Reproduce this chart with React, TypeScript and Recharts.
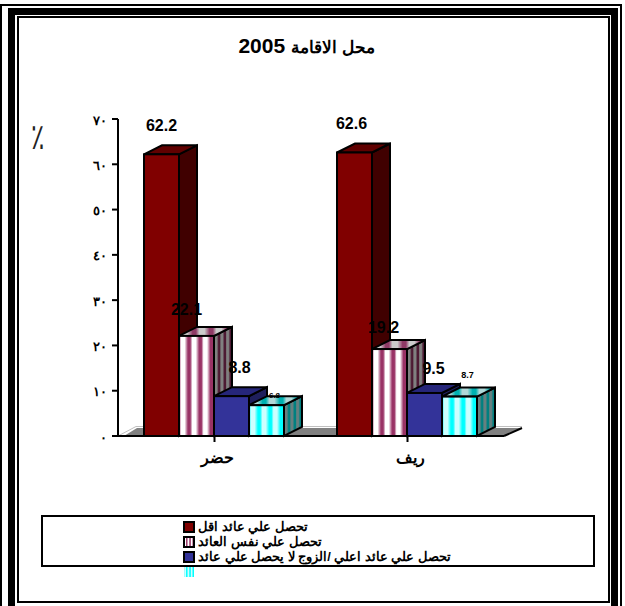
import React from 'react';
import { BarChart, Bar, XAxis, YAxis, LabelList, Legend, Customized, usePlotArea } from 'recharts';

const categories = ['حضر', 'ريف'];
const seriesKeys = ['less', 'same', 'more', 'none'];
const seriesNames = ['تحصل علي عائد اقل', 'تحصل علي نفس العائد', 'تحصل علي عائد اعلي /الزوج لا يحصل علي عائد', ''];
const lessValues = [62.2, 62.6];
const sameValues = [22.1, 19.2];
const moreValues = [8.8, 9.5];
const noneValues = [6.8, 8.7];
const yTicks = [0, 10, 20, 30, 40, 50, 60, 70];
const yTickLabels = ['٠', '١٠', '٢٠', '٣٠', '٤٠', '٥٠', '٦٠', '٧٠'];

const data = categories.map((name, i) => ({
    name,
    less: lessValues[i],
    same: sameValues[i],
    more: moreValues[i],
    none: noneValues[i],
}));

const LATIN = '"Liberation Sans", Arial, sans-serif';
const DEPTH_X = 18;
const DEPTH_Y = 9;

// front, top and side fill of each series
const FACES = [
    ['#800000', '#600000', '#400000'],
    ['url(#pinkFront)', 'url(#pinkTop)', 'url(#pinkSide)'],
    ['#333399', '#26267a', '#1f1f5c'],
    ['url(#cyanFront)', 'url(#cyanTop)', 'url(#cyanSide)'],
];

// label nudges from the middle of the front top edge, [series][category]
const LABEL_NUDGE = [
    [[0, -29], [-3, -29]],
    [[-10, -26], [-6, -22]],
    [[8, -29], [9, -24]],
    [[8, -10], [8, -22]],
];
const LABEL_SIZE = [[16, 16], [16, 16], [16, 16], [8, 9]];

function stripes(id: string, a: string, b: string) {
    return (
        <linearGradient id={id} x1="0" x2="0.32" y1="0" y2="0" spreadMethod="repeat">
            <stop offset="0" stopColor={a} />
            <stop offset="0.2" stopColor={b} />
            <stop offset="0.5" stopColor={b} />
            <stop offset="0.8" stopColor={a} />
            <stop offset="1" stopColor={a} />
        </linearGradient>
    );
}

const Box3D = (series: number) => (props: any) => {
    const { x, y, width, height } = props;
    const [front, top, side] = FACES[series];
    const r = x + width;
    const b = y + height;
    const line = { stroke: '#000', strokeWidth: 2, strokeLinejoin: 'miter' as const };
    return (
        <g>
            <polygon points={`${r},${y} ${r + DEPTH_X},${y - DEPTH_Y} ${r + DEPTH_X},${b - DEPTH_Y} ${r},${b}`} fill={side} {...line} />
            <polygon points={`${x},${y} ${x + DEPTH_X},${y - DEPTH_Y} ${r + DEPTH_X},${y - DEPTH_Y} ${r},${y}`} fill={top} {...line} />
            <rect x={x} y={y} width={width} height={height} fill={front} {...line} />
        </g>
    );
};

const barLabel = (series: number) => (props: any) => {
    const { x, y, width, value, index } = props;
    const [dx, dy] = LABEL_NUDGE[series][index];
    return (
        <text x={x + width / 2 + dx} y={y + dy} textAnchor="middle" dominantBaseline="central" fontFamily={LATIN} fontWeight="bold" fontSize={LABEL_SIZE[series][index]} fill="#000">
            {value}
        </text>
    );
};

function Floor() {
    const plot = usePlotArea();
    if (!plot) return null;
    const l = plot.x;
    const r = plot.x + plot.width;
    const b = plot.y + plot.height;
    return (
        <g>
            <polygon points={`${l + 6},${b} ${l + 19},${b - 8} ${r + DEPTH_X},${b - 8} ${r},${b}`} fill="#808080" />
            <polyline points={`${l},${b} ${l + DEPTH_X},${b - 9.5} ${r + DEPTH_X},${b - 9.5}`} fill="none" stroke="#c0c0c0" />
            <line x1={r} y1={b} x2={r + DEPTH_X} y2={b - 8} stroke="#000" strokeWidth={2} />
        </g>
    );
}

const YTick = (props: any) => {
    const { x, y, index } = props;
    return (
        <text x={x - 3} y={y + 1} textAnchor="end" dominantBaseline="central" fontFamily={LATIN} fontWeight="bold" fontSize={13} letterSpacing={5} fill="#000">
            {yTickLabels[index]}
        </text>
    );
};

const XTick = (props: any) => {
    const { x, y, payload } = props;
    return (
        <text x={x + 3} y={y + 19} textAnchor="middle" direction="rtl" fontFamily={LATIN} fontWeight="bold" fontSize={16} fill="#000">
            {payload.value}
        </text>
    );
};

const LegendBox = (props: any) => {
    const items = props.payload || [];
    return (
        <div style={{ position: 'relative', width: 550, height: 48, border: '2px solid #000' }}>
            {items.map((item: any, i: number) => (
                <div key={i} style={{ position: 'absolute', left: 140, top: 3 + i * 15, height: 13, display: 'flex', alignItems: 'center', gap: 3, whiteSpace: 'nowrap' }}>
                    <svg width={12} height={12} style={{ display: 'block' }}>
                        <rect x={1} y={1} width={10} height={10} fill={FACES[i][0]} stroke={i < 3 ? '#000' : 'none'} strokeWidth={2} />
                    </svg>
                    <span dir="rtl" style={{ fontFamily: LATIN, fontWeight: 'bold', fontSize: 12.8, color: '#000' }}>{seriesNames[i]}</span>
                </div>
            ))}
        </div>
    );
};

const frame = (l: number, t: number, r: number, w: number) => (
    <div style={{ position: 'absolute', left: l, top: t, width: r - l - 2 * w, height: 640, border: `${w}px solid #000` }} />
);

export default function App() {
    return (
        <div style={{ position: 'absolute', left: 0, top: 0, width: 625, height: 606, overflow: 'hidden', background: '#fff' }}>
            {frame(0, 4, 622, 2)}
            {frame(8, 8, 618, 7)}
            <div style={{ position: 'absolute', left: 17, top: 16, width: 589, height: 583, border: '2px solid #000' }} />
            <div dir="rtl" style={{ position: 'absolute', left: 0, width: 613, top: 33, textAlign: 'center', fontFamily: LATIN, fontWeight: 'bold', fontSize: 21, lineHeight: '26px', color: '#000' }}>
                <span style={{ fontSize: 16.5 }}>محل الاقامة</span> 2005
            </div>
            <div style={{ position: 'absolute', left: 30, top: 121, fontFamily: LATIN, fontSize: 28, lineHeight: '32px', color: '#222', transform: 'scale(0.9, 1.3)' }}>٪</div>
            <div style={{ position: 'absolute', left: 0, top: 0 }}>
                <BarChart width={625} height={606} data={data} barCategoryGap={26} barGap={0} margin={{ top: 119, right: 121, bottom: 88, left: 58 }}>
                    <defs>
                        {stripes('pinkFront', '#993366', '#ffffff')}
                        {stripes('pinkTop', '#8f3a66', '#cccccc')}
                        {stripes('pinkSide', '#4d1a33', '#808080')}
                        {stripes('cyanFront', '#00ffff', '#ccffff')}
                        {stripes('cyanTop', '#00b0b0', '#b0d8d8')}
                        {stripes('cyanSide', '#008080', '#668080')}
                    </defs>
                    <Customized component={Floor} />
                    <XAxis dataKey="name" height={30} tick={XTick} tickSize={6} interval={0} axisLine={{ stroke: '#000', strokeWidth: 2 }} tickLine={{ stroke: '#000', strokeWidth: 2 }} />
                    <YAxis width={60} domain={[0, 70]} ticks={yTicks} tick={YTick} tickSize={6} interval={0} axisLine={{ stroke: '#000', strokeWidth: 2 }} tickLine={{ stroke: '#000', strokeWidth: 2 }} />
                    <Legend content={LegendBox} layout="vertical" wrapperStyle={{ position: 'absolute', left: 41, top: 515, width: 554, bottom: 'auto' }} />
                    {seriesKeys.map((key, i) => (
                        <Bar key={key} dataKey={key} name={seriesNames[i] || key} fill={FACES[i][0]} shape={Box3D(i)} isAnimationActive={false}>
                            <LabelList dataKey={key} content={barLabel(i)} />
                        </Bar>
                    ))}
                </BarChart>
            </div>
        </div>
    );
}
